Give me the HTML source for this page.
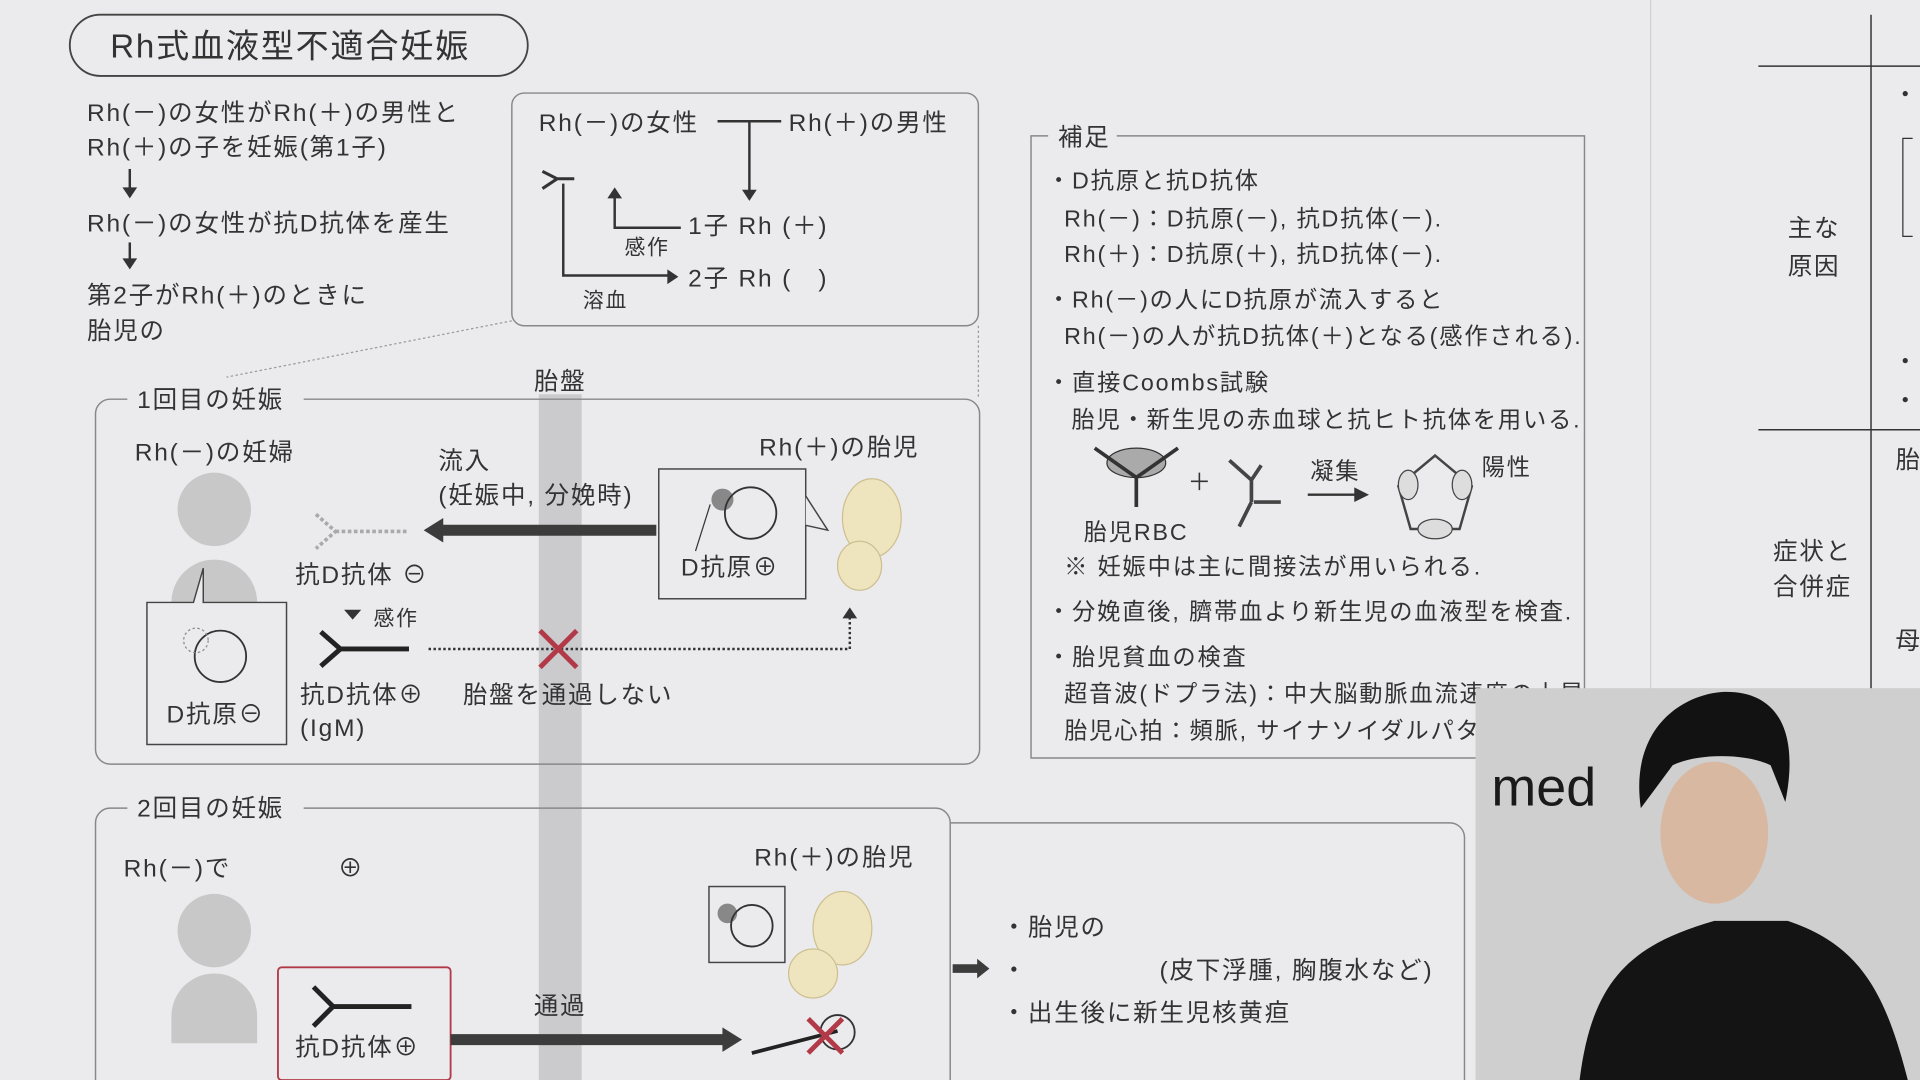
<!DOCTYPE html>
<html><head><meta charset="utf-8"><style>
html,body{margin:0;padding:0;background:#ebebed;overflow:hidden}
svg{display:block}
text{font-family:"Liberation Sans","Noto Sans CJK JP",sans-serif;fill:#333;letter-spacing:1.5px}
</style></head><body>
<svg width="1920" height="1080" viewBox="0 0 1568 882" xmlns="http://www.w3.org/2000/svg" font-size="20">
<rect width="1568" height="882" fill="#ebebed"/>
<rect x="440" y="322" width="35" height="560" fill="#cbcbcd"/>
<rect x="57" y="12" width="374" height="50" rx="25" fill="none" stroke="#444" stroke-width="1.5"/>
<text x="90" y="47" font-size="27">Rh式血液型不適合妊娠</text>
<text x="71" y="99">Rh(－)の女性がRh(＋)の男性と</text>
<text x="71" y="127">Rh(＋)の子を妊娠(第1子)</text>
<path d="M106 138v20" stroke="#333" stroke-width="2"/><path d="M100 153l6 9 6-9z" fill="#333"/>
<text x="71" y="189">Rh(－)の女性が抗D抗体を産生</text>
<path d="M106 198v18" stroke="#333" stroke-width="2"/><path d="M100 211l6 9 6-9z" fill="#333"/>
<text x="71" y="248">第2子がRh(＋)のときに</text>
<text x="71" y="277">胎児の</text>
<rect x="418" y="76" width="381" height="190" rx="10" fill="none" stroke="#888" stroke-width="1.2"/>
<text x="440" y="107">Rh(－)の女性</text>
<text x="644" y="107">Rh(＋)の男性</text>
<path d="M586 99h52M612 99v58" stroke="#333" stroke-width="2"/><path d="M606 155l6 9 6-9z" fill="#333"/>
<path d="M443 140l12 6-12 8M455 146h14" stroke="#333" stroke-width="2.5" fill="none"/>
<path d="M460 150v75h86" stroke="#333" stroke-width="2" fill="none"/><path d="M545 220l9 6-9 6z" fill="#333"/>
<path d="M556 186h-54v-28" stroke="#333" stroke-width="2" fill="none"/><path d="M496 162l6-9 6 9z" fill="#333"/>
<text x="562" y="191">1子 Rh (＋)</text>
<text x="510" y="208" font-size="17">感作</text>
<text x="562" y="234">2子 Rh (　)</text>
<text x="476" y="251" font-size="17">溶血</text>
<path d="M418 262L185 308M799 266v60" stroke="#999" stroke-dasharray="2 2"/>
<text x="436" y="318">胎盤</text>
<path d="M104 326H90a12 12 0 0 0-12 12v274a12 12 0 0 0 12 12h698a12 12 0 0 0 12-12V338a12 12 0 0 0-12-12H248" fill="none" stroke="#888" stroke-width="1.2"/>
<text x="112" y="333">1回目の妊娠</text>
<text x="110" y="376">Rh(－)の妊婦</text>
<circle cx="175" cy="416" r="30" fill="#c8c8c8"/>
<path d="M140 492a35 35 0 0 1 70 0v20h-70z" fill="#c8c8c8"/>
<path d="M120 492h38l8-28v28h68v116H120z" fill="#ebebed" stroke="#444" stroke-width="1.2"/>
<circle cx="180" cy="536" r="21" fill="none" stroke="#333" stroke-width="1.5"/>
<circle cx="160" cy="523" r="10" fill="none" stroke="#888" stroke-dasharray="2 2"/>
<text x="136" y="590">D抗原⊖</text>
<path d="M258 420l16 14-16 14M274 434h58" stroke="#aaa" stroke-width="3" fill="none" stroke-dasharray="3 2"/>
<text x="241" y="476">抗D抗体 ⊖</text>
<path d="M358 433h178" stroke="#3c3c3c" stroke-width="9"/><path d="M346 433l16-10v20z" fill="#3c3c3c"/>
<text x="358" y="383">流入</text>
<text x="358" y="411">(妊娠中, 分娩時)</text>
<text x="620" y="372">Rh(＋)の胎児</text>
<rect x="538" y="383" width="120" height="106" fill="#ebebed" stroke="#444" stroke-width="1.2"/>
<path d="M658 405l18 28-18 -4" fill="#ebebed" stroke="#444" stroke-width="1.2"/>
<circle cx="590" cy="408" r="9" fill="#888"/>
<circle cx="613" cy="419" r="21" fill="none" stroke="#333" stroke-width="1.5"/>
<path d="M580 412l-12 38" stroke="#333"/>
<text x="556" y="470">D抗原⊕</text>
<ellipse cx="712" cy="423" rx="24" ry="32" fill="#eee4be" stroke="#cdbf90"/>
<ellipse cx="702" cy="462" rx="18" ry="20" fill="#eee4be" stroke="#cdbf90"/>
<path d="M288 506l-7-8h14z" fill="#333"/><text x="305" y="511" font-size="17">感作</text>
<path d="M262 516l16 14-16 14M278 530h56" stroke="#222" stroke-width="4" fill="none"/>
<text x="245" y="574">抗D抗体⊕</text><text x="245" y="601">(IgM)</text>
<path d="M350 530h344v-28" stroke="#333" stroke-width="2" stroke-dasharray="2 2" fill="none"/>
<path d="M688 505l6-9 6 9z" fill="#333"/>
<path d="M441 515l30 30M471 515l-30 30" stroke="#b23a48" stroke-width="4"/>
<text x="378" y="574">胎盤を通過しない</text>
<path d="M104 660H90a12 12 0 0 0-12 12v210M248 660h516a12 12 0 0 1 12 12v210" fill="none" stroke="#888" stroke-width="1.2"/>
<path d="M776 672h408a12 12 0 0 1 12 12v198" fill="none" stroke="#888" stroke-width="1.2"/>
<text x="112" y="667">2回目の妊娠</text>
<text x="101" y="716">Rh(－)で</text><text x="276" y="716">⊕</text>
<circle cx="175" cy="760" r="30" fill="#c8c8c8"/>
<path d="M140 830a35 35 0 0 1 70 0v22h-70z" fill="#c8c8c8"/>
<rect x="227" y="790" width="141" height="92" rx="3" fill="#ebebed" stroke="#b23a48" stroke-width="1.5"/>
<path d="M256 806l16 16-16 16M272 822h64" stroke="#222" stroke-width="4" fill="none"/>
<text x="241" y="862">抗D抗体⊕</text>
<path d="M368 849h226" stroke="#3c3c3c" stroke-width="9"/><path d="M590 839l16 10-16 10z" fill="#3c3c3c"/>
<text x="436" y="828">通過</text>
<text x="616" y="707">Rh(＋)の胎児</text>
<rect x="579" y="724" width="62" height="62" fill="#ebebed" stroke="#444" stroke-width="1.2"/>
<circle cx="594" cy="746" r="8" fill="#888"/><circle cx="614" cy="756" r="17" fill="none" stroke="#333" stroke-width="1.5"/>
<ellipse cx="688" cy="758" rx="24" ry="30" fill="#eee4be" stroke="#cdbf90"/>
<ellipse cx="664" cy="795" rx="20" ry="20" fill="#eee4be" stroke="#cdbf90"/>
<path d="M614 860l70-18" stroke="#222" stroke-width="3"/><circle cx="684" cy="843" r="14" fill="none" stroke="#333" stroke-width="1.5"/>
<path d="M660 832l28 28M688 832l-28 28" stroke="#b23a48" stroke-width="4"/>
<path d="M778 791h22" stroke="#3c3c3c" stroke-width="7"/><path d="M798 783l10 8-10 8z" fill="#3c3c3c"/>
<text x="818" y="764">・胎児の</text>
<text x="818" y="799">・　　　　　(皮下浮腫, 胸腹水など)</text>
<text x="818" y="834">・出生後に新生児核黄疸</text>
<path d="M856 111h-14v508h452V111H912" fill="none" stroke="#888" stroke-width="1.2"/>
<text x="864" y="119">補足</text>
<g font-size="19">
<text x="855" y="154">・D抗原と抗D抗体</text>
<text x="869" y="185">Rh(－)：D抗原(－), 抗D抗体(－).</text>
<text x="869" y="214">Rh(＋)：D抗原(＋), 抗D抗体(－).</text>
<text x="855" y="251">・Rh(－)の人にD抗原が流入すると</text>
<text x="869" y="281">Rh(－)の人が抗D抗体(＋)となる(感作される).</text>
<text x="855" y="319">・直接Coombs試験</text>
<text x="875" y="349">胎児・新生児の赤血球と抗ヒト抗体を用いる.</text>
<text x="885" y="441">胎児RBC</text>
<text x="869" y="469">※ 妊娠中は主に間接法が用いられる.</text>
<text x="855" y="506">・分娩直後, 臍帯血より新生児の血液型を検査.</text>
<text x="855" y="543">・胎児貧血の検査</text>
<text x="869" y="573">超音波(ドプラ法)：中大脳動脈血流速度の上昇</text>
<text x="869" y="603">胎児心拍：頻脈, サイナソイダルパターン</text>
<text x="970" y="400">＋</text><text x="1070" y="391">凝集</text><text x="1210" y="388">陽性</text>
</g>
<ellipse cx="928" cy="378" rx="24" ry="12" fill="#aaa" stroke="#333"/>
<path d="M894 366l34 24 34-24M928 390v24" stroke="#333" stroke-width="3" fill="none"/>
<path d="M1004 376l18 16M1030 380l-8 12v18M1022 410l-10 20M1024 410l22 0" stroke="#444" stroke-width="3" fill="none"/>
<path d="M1068 404h40" stroke="#333" stroke-width="2"/><path d="M1106 398l12 6-12 6z" fill="#333"/>
<path d="M1172 372l30 25-10 35h-40l-10-35z" fill="none" stroke="#444" stroke-width="2"/>
<ellipse cx="1172" cy="432" rx="14" ry="8" fill="#ddd" stroke="#444"/>
<ellipse cx="1150" cy="396" rx="8" ry="12" fill="#ddd" stroke="#444"/>
<ellipse cx="1194" cy="396" rx="8" ry="12" fill="#ddd" stroke="#444"/>
<path d="M1348 0v882" stroke="#d0d0d2"/>
<path d="M1436 54h132M1436 351h132M1528 12v870" stroke="#333" stroke-width="1.2"/>
<path d="M1562 113h-8v80h8" stroke="#333" fill="none"/>
<text x="1460" y="193">主な</text><text x="1460" y="224">原因</text>
<text x="1448" y="457">症状と</text><text x="1448" y="486">合併症</text>
<text x="1546" y="84">・</text><text x="1546" y="302">・</text><text x="1546" y="334">・</text>
<text x="1548" y="382">胎</text><text x="1548" y="530">母</text>
<rect x="1205" y="562" width="363" height="320" fill="#cfcfd0"/>
<text x="1218" y="658" font-size="44" style="fill:#1a1a1a;letter-spacing:0">med</text>
<path d="M1290 882c10-80 40-110 110-130h60c60 20 80 60 98 130z" fill="#141414"/>
<ellipse cx="1400" cy="680" rx="44" ry="58" fill="#d8b8a0"/>
<path d="M1340 660c-10-70 40-95 70-95 40 0 60 30 48 90l-12-30c-20-10-60-10-80 0z" fill="#121212"/>
</svg>
</body></html>
